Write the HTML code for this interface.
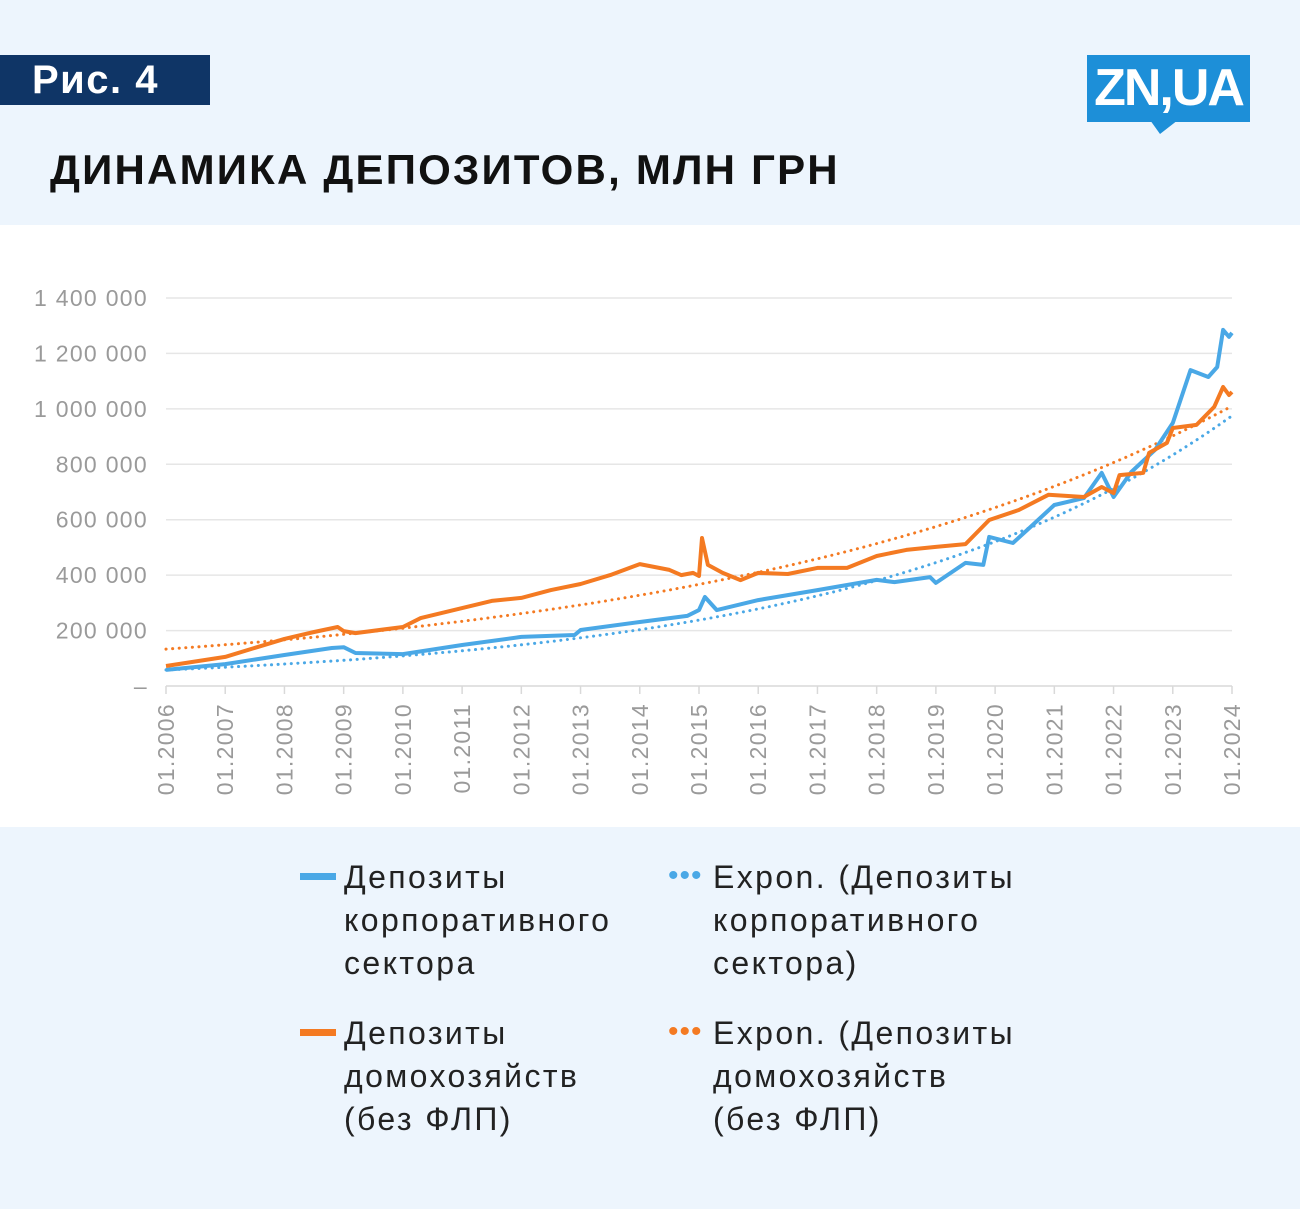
<!DOCTYPE html>
<html><head><meta charset="utf-8"><style>
body{margin:0;width:1300px;height:1209px;background:#edf5fd;font-family:"Liberation Sans","DejaVu Sans",sans-serif;position:relative;overflow:hidden}
#hdr{position:absolute;left:0;top:0;width:1300px;height:225px;background:#edf5fd}
#fig{position:absolute;left:0;top:55px;width:210px;height:50px;background:#0f3566;color:#fff;font-weight:bold;font-size:40px;line-height:50px;padding-left:32px;box-sizing:border-box;letter-spacing:1.5px}
#title{position:absolute;left:50px;top:146px;font-weight:bold;font-size:42px;color:#111;letter-spacing:2.2px}
#logo{position:absolute;left:1087px;top:55px;width:163px;height:67px;background:#1d8fd8;color:#fff;font-weight:bold;font-size:52px;line-height:67px;text-align:center;letter-spacing:-2px}
#chart{position:absolute;left:0;top:225px;width:1300px;height:602px;background:#fff}
.leg{position:absolute;font-size:32px;color:#222;line-height:43px;letter-spacing:2.4px}
</style></head><body>
<div id="hdr"></div>
<div id="fig">Рис. 4</div>
<div id="title">ДИНАМИКА ДЕПОЗИТОВ, МЛН ГРН</div>
<div id="logo">ZN,UA</div>
<svg style="position:absolute;left:1150px;top:120px" width="30" height="16"><polygon points="0,0 28,0 10,14" fill="#1d8fd8"/></svg>
<div id="chart"></div>
<svg id="svg" style="position:absolute;left:0;top:0" width="1300" height="827"></svg>

<div>
<div style="position:absolute;left:300px;top:873px;width:36px;height:7px;background:#4aa8e6"></div>
<div class="leg" style="left:344px;top:856px">Депозиты<br>корпоративного<br>сектора</div>
<div style="position:absolute;left:668px;top:870px;font-size:30px;color:#4aa8e6;line-height:12px;letter-spacing:1px">•••</div>
<div class="leg" style="left:713px;top:856px">Expon. (Депозиты<br>корпоративного<br>сектора)</div>
<div style="position:absolute;left:300px;top:1029px;width:36px;height:7px;background:#f47a22"></div>
<div class="leg" style="left:344px;top:1012px">Депозиты<br>домохозяйств<br>(без ФЛП)</div>
<div style="position:absolute;left:668px;top:1026px;font-size:30px;color:#f47a22;line-height:12px;letter-spacing:1px">•••</div>
<div class="leg" style="left:713px;top:1012px">Expon. (Депозиты<br>домохозяйств<br>(без ФЛП)</div>
</div>

<script>
const yTicks=[0,200000,400000,600000,800000,1000000,1200000,1400000];
const yTickLabels=["–","200 000","400 000","600 000","800 000","1 000 000","1 200 000","1 400 000"];
const xYears=[2006,2007,2008,2009,2010,2011,2012,2013,2014,2015,2016,2017,2018,2019,2020,2021,2022,2023,2024];
const corpDates=[2006,2007,2008,2008.8,2009,2009.2,2010,2011,2012,2012.9,2013,2014,2014.8,2015,2015.1,2015.3,2016,2017,2018,2018.3,2018.9,2019,2019.5,2019.8,2019.9,2020.3,2020.6,2021,2021.5,2021.8,2022,2022.3,2022.7,2023,2023.3,2023.6,2023.75,2023.85,2023.95,2024];
const corpValues=[58,79,112,137,140,119,115,148,177,184,202,231,253,274,321,274,310,346,383,375,393,372,444,437,538,516,574,653,678,769,682,772,852,949,1140,1115,1151,1285,1260,1274];
const hhDates=[2006,2007,2008,2008.5,2008.9,2009,2009.2,2010,2010.3,2011,2011.5,2012,2012.5,2013,2013.5,2014,2014.5,2014.7,2014.9,2015,2015.05,2015.15,2015.4,2015.7,2016,2016.5,2017,2017.5,2018,2018.5,2019,2019.5,2019.9,2020.4,2020.9,2021.5,2021.8,2022,2022.1,2022.5,2022.6,2022.9,2023,2023.4,2023.7,2023.85,2023.95,2024];
const hhValues=[72,105,170,195,213,198,191,213,245,281,307,318,346,368,400,440,419,400,408,397,534,437,408,382,408,404,426,426,469,491,502,512,599,635,690,682,718,696,761,769,841,877,931,942,1007,1079,1050,1061];
const corpTrend=[58,975];
const hhTrend=[133,1010];

const svg=document.getElementById('svg');const NS='http://www.w3.org/2000/svg';
const X=t=>166+(t-2006)*(1232-166)/18;
const Y=v=>686-v*388/1400000;
function mk(tag,attrs){const e=document.createElementNS(NS,tag);for(const k in attrs)e.setAttribute(k,attrs[k]);svg.appendChild(e);return e;}
yTicks.forEach((v,i)=>{
  if(v>0){const g=mk('line',{x1:166,x2:1232,y1:Y(v),y2:Y(v),stroke:'#e6e6e6','stroke-width':1.5});
  
  }
  const t=mk('text',{x:148,y:Y(v)+8,'text-anchor':'end','font-size':23,fill:'#9a9a9a','font-family':'Liberation Sans, sans-serif','letter-spacing':'1.3'});
  t.textContent=yTickLabels[i];
  
  
});
const ax=mk('line',{x1:166,x2:1232,y1:686,y2:686,stroke:'#d9d9d9','stroke-width':1.5});


xYears.forEach(y=>{
  const tk=mk('line',{x1:X(y),x2:X(y),y1:686,y2:694,stroke:'#d9d9d9','stroke-width':1.5});
  
  
  const t=mk('text',{x:0,y:0,'text-anchor':'end','font-size':23,fill:'#9a9a9a','font-family':'Liberation Sans, sans-serif','letter-spacing':'1.3',transform:`translate(${X(y)+8},703) rotate(-90)`});
  t.textContent='01.'+y;
  
  
});
function trend(tr,color,name){
  const pts=[];for(let i=0;i<=90;i++){const t=2006+i*0.2;const v=tr[0]*Math.pow(tr[1]/tr[0],(t-2006)/18)*1000;pts.push(X(t).toFixed(1)+','+Y(v).toFixed(1));}
  const p=mk('polyline',{points:pts.join(' '),fill:'none',stroke:color,'stroke-width':3,'stroke-dasharray':'0.1 6.5','stroke-linecap':'round'});
  
  
}
function line(d,v,color,name){
  const p=mk('polyline',{points:d.map((t,i)=>X(t).toFixed(1)+','+Y(v[i]*1000).toFixed(1)).join(' '),fill:'none',stroke:color,'stroke-width':4,'stroke-linejoin':'round'});
  
  
}
trend(hhTrend,'#f47a22','household-trend-line');
trend(corpTrend,'#4aa8e6','corporate-trend-line');
line(corpDates,corpValues,'#4aa8e6','corporate-deposits-line');
line(hhDates,hhValues,'#f47a22','household-deposits-line');
</script>
</body></html>
